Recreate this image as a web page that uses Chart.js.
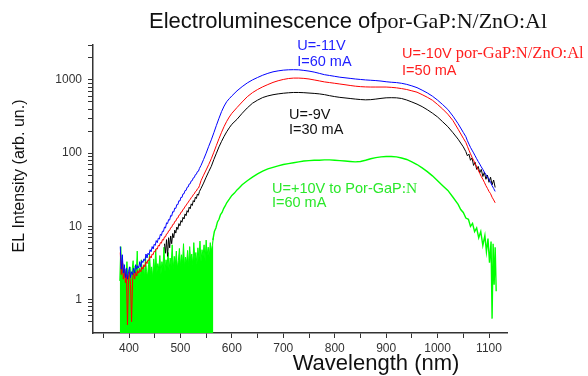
<!DOCTYPE html>
<html>
<head>
<meta charset="utf-8">
<script src="https://cdn.jsdelivr.net/npm/chart.js@4.4.1/dist/chart.umd.min.js"></script>
<style>
  html, body { margin: 0; background: #fff; }
  #wrap { width: 588px; height: 376px; }
</style>
</head>
<body>
<div id="wrap"><canvas id="el" width="588" height="376"></canvas></div>
<script>
// EL spectra of por-GaP:N/ZnO:Al, log intensity vs wavelength.
// Values.

// x tick marks (labels only on the hundreds)
const xTicks = [350, 400, 450, 500, 550, 600, 650, 700, 750, 800, 850, 900, 950, 1000, 1050, 1100];

// shared wavelength grid for the three reverse-bias curves (nm)
const nm = [
  383, 385, 387, 389, 391, 393, 395, 397, 399, 401,
  403, 405, 407, 409, 411, 413, 415, 417, 419, 421,
  423, 425, 427, 429, 431, 433, 435, 437, 439, 441,
  443, 445, 447, 449, 451, 453, 455, 457, 459, 461,
  463, 465, 467, 469, 471, 473, 475, 477, 479, 481,
  483, 485, 487, 489, 491, 493, 495, 497, 499, 501,
  503, 505, 507, 509, 511, 513, 515, 517, 519, 521,
  523, 525, 527, 529, 531, 533, 535, 537,
  540, 545, 550, 555, 560, 565, 570, 575, 580, 585, 590, 595,
  600, 610, 620, 630, 640, 650, 660, 670, 680, 690,
  700, 710, 720, 730, 740, 750, 760, 770, 780, 790,
  800, 810, 820, 830, 840, 850, 860, 870, 880, 890,
  900, 910, 920, 930, 940, 950, 960, 970, 980, 990,
  1000, 1010, 1020, 1030, 1040, 1050,
  1055, 1058, 1061, 1064, 1067, 1070, 1073, 1076, 1079, 1082,
  1085, 1088, 1091, 1094, 1097, 1100, 1103, 1106, 1109, 1112,
];

// U=-11V, I=60 mA
const blueEL = [
  5.3, 2.6, 4.1, 2.3, 3.0, 2.0, 2.7, 1.9, 2.4, 2.8,
  2.0, 2.4, 2.2, 2.7, 2.3, 3.0, 2.6, 2.9, 2.7, 3.3,
  2.8, 3.4, 3.2, 3.6, 3.4, 4.2, 3.7, 4.3, 4.1, 4.8,
  4.5, 5.3, 4.9, 5.7, 5.5, 6.4, 6.0, 6.9, 6.7, 7.8,
  7.5, 8.6, 8.5, 9.8, 9.5, 11.2, 10.9, 12.4, 12.2, 14.1,
  13.8, 15.9, 15.7, 17.8, 17.6, 19.9, 19.8, 22.4, 22.2, 25.0,
  24.8, 27.8, 27.9, 30.9, 31.0, 34.2, 34.5, 37.9, 38.2, 41.8,
  42.2, 46.0, 46.5, 50.8, 51.4, 56.0, 56.6, 62,
  68, 82, 100, 124, 152, 190, 240, 300, 370, 440, 505, 555,
  605, 710, 810, 910, 1000, 1080, 1160, 1230, 1290, 1330,
  1360, 1375, 1380, 1375, 1350, 1320, 1280, 1230, 1180, 1150,
  1120, 1090, 1070, 1050, 1030, 1015, 1000, 990, 980, 965,
  945, 930, 920, 900, 870, 830, 785, 725, 665, 600,
  530, 460, 395, 320, 252, 192,
  168, 148, 133, 120, 110, 101, 92, 84, 77, 71,
  65, 60, 55, 51, 47, 44, 40, 36, 33, 30,
];

// U=-10V, I=50 mA
const redEL = [
  4.4, 2.2, 3.4, 1.9, 2.6, 1.7, 2.2, 0.45, 2.0, 2.4,
  1.6, 0.5, 1.9, 2.3, 1.9, 2.4, 2.1, 2.5, 2.3, 2.6,
  2.4, 2.8, 2.6, 3.0, 2.8, 3.3, 3.1, 3.5, 3.4, 3.9,
  3.7, 4.2, 4.1, 4.6, 4.5, 5.0, 4.9, 5.5, 5.4, 6.0,
  5.9, 6.6, 6.5, 7.2, 7.2, 7.9, 8.0, 8.7, 8.8, 9.6,
  9.7, 10.6, 10.7, 11.7, 11.8, 12.9, 13.0, 14.2, 14.4, 15.6,
  15.8, 17.1, 17.4, 18.8, 19.2, 20.6, 21.1, 22.6, 23.2, 24.8,
  25.4, 27.2, 27.8, 29.8, 30.4, 32.6, 33.3, 36,
  42, 50, 59, 70, 84, 103, 128, 158, 193, 232, 272, 312,
  350, 420, 500, 590, 670, 740, 805, 865, 925, 975,
  1015, 1045, 1060, 1060, 1050, 1030, 1000, 970, 940, 920,
  900, 880, 860, 840, 822, 810, 803, 800, 800, 800,
  800, 792, 780, 762, 740, 710, 680, 630, 580, 528,
  462, 400, 340, 278, 212, 160,
  140, 124, 110, 98, 88, 80, 72, 65, 59, 53,
  48, 44, 40, 36, 33, 30, 28, 25, 23, 21,
];

// U=-9V, I=30 mA (hidden under the others below ~470 nm)
const blackEL = [
  null, null, null, null, null, null, null, null, null, null,
  null, null, null, null, null, null, null, null, null, null,
  null, null, null, null, null, null, null, null, null, null,
  null, null, null, null, null, null, null, null, null, null,
  null, null, null, 5.8, 4.3, 6.6, 3.9, 7.0, 5.1, 7.4,
  5.8, 8.0, 7.0, 8.9, 8.1, 9.8, 9.1, 10.9, 10.2, 12.0,
  11.4, 13.3, 12.6, 14.8, 14.0, 16.4, 15.6, 18.3, 17.4, 20.3,
  19.3, 22.5, 21.5, 25, 24, 27.7, 26.6, 30,
  33, 39, 47, 56, 66, 82, 100, 122, 145, 170, 196, 222,
  248, 290, 350, 415, 480, 530, 575, 605, 628, 645,
  658, 668, 674, 674, 670, 662, 655, 645, 630, 610,
  592, 578, 568, 558, 548, 540, 535, 538, 548, 560,
  570, 572, 570, 558, 532, 500, 468, 432, 392, 352,
  312, 268, 230, 190, 155, 122,
  105, 92, 97, 80, 86, 68, 75, 60, 66, 54,
  60, 48, 55, 44, 50, 40, 47, 37, 43, 34,
];

// U=+10V to por-GaP:N, I=60 mA — smooth part
const greenNm = [
  563, 566, 569, 572, 575, 578, 581, 584, 587, 590,
  595, 600, 605, 610, 615, 620, 630, 640, 650, 660,
  670, 680, 690, 700, 710, 720, 730, 740, 750, 760,
  770, 780, 790, 800, 810, 820, 830, 840, 850, 860,
  870, 880, 890, 900, 910, 920, 930, 940, 950, 960,
  970, 980, 990, 1000, 1010, 1020, 1030, 1040, 1045, 1050,
  1055, 1060, 1064, 1068, 1072, 1076, 1080, 1084, 1088, 1092,
  1095, 1098, 1101, 1104, 1106, 1108, 1110, 1112, 1114,
];
const greenEL = [
  6.5, 8.5, 9.5, 11.5, 12.5, 14.5, 15.5, 17.5, 19, 21,
  23.5, 26.5, 28.5, 31.5, 34, 37, 42, 47, 52, 57,
  61, 64, 67, 70, 72, 74, 76, 78, 79, 80,
  80, 81, 81, 80, 79, 78, 77, 76, 77, 80,
  84, 87, 89, 90, 90, 89, 86, 82, 76, 70,
  63, 56, 49, 42, 36, 31, 25, 20, 17, 15.5,
  13, 12.5, 10, 11, 8.5, 9.5, 7, 8.5, 5.5, 7.5,
  4.5, 6.8, 3.2, 6.2, 0.55, 5.8, 1.6, 5.2, 1.3,
];

// green curve below 565 nm: noise floor, drawn as a filled band
const noiseNm = [
  382, 384, 386, 388, 390, 392, 394, 396, 398, 400,
  402, 404, 406, 408, 410, 412, 414, 416, 418, 420,
  422, 424, 426, 428, 430, 432, 434, 436, 438, 440,
  442, 444, 446, 448, 450, 452, 454, 456, 458, 460,
  462, 464, 466, 468, 470, 472, 474, 476, 478, 480,
  482, 484, 486, 488, 490, 492, 494, 496, 498, 500,
  502, 504, 506, 508, 510, 512, 514, 516, 518, 520,
  522, 524, 526, 528, 530, 532, 534, 536, 538, 540,
  542, 544, 546, 548, 550, 552, 554, 556, 558, 560,
  562, 564,
];
const noiseEL = [
  1.8, 5.3, 2.4, 3.1, 1.6, 2.6, 1.9, 3.3, 1.7, 2.2,
  2.8, 1.5, 2.5, 3.4, 1.8, 2.9, 2.1, 4.6, 2.0, 2.7,
  1.9, 3.5, 2.3, 2.9, 2.0, 3.8, 2.4, 2.1, 3.0, 4.2,
  2.2, 2.8, 2.0, 3.6, 2.5, 4.9, 2.3, 3.1, 2.6, 4.0,
  2.2, 3.3, 2.7, 5.2, 2.4, 3.5, 2.8, 4.4, 2.5, 3.7,
  2.9, 5.6, 2.6, 3.9, 3.0, 4.6, 2.7, 3.4, 5.0, 2.9,
  4.1, 3.1, 5.8, 2.8, 3.8, 3.2, 4.7, 2.9, 5.3, 3.4,
  4.2, 3.0, 6.0, 3.5, 4.4, 3.1, 5.1, 3.6, 6.3, 3.3,
  4.8, 3.9, 5.6, 3.4, 6.5, 4.1, 5.2, 3.8, 6.0, 4.6,
  5.5, 7.0,
];

const SANS = '"Liberation Sans", Arial, sans-serif';
const SERIF = '"Liberation Serif", "Times New Roman", serif';

// text labels placed in data coordinates (nm, EL)
const notes = [
  { nm: 727, el: 2915, color: '#1f1fff', runs: [['U=-11V', SANS, 14.5]] },
  { nm: 727, el: 1762, color: '#1f1fff', runs: [['I=60 mA', SANS, 14.5]] },
  { nm: 931, el: 2265, color: '#ff1f1f', runs: [['U=-10V ', SANS, 14.5], ['por-GaP:N/ZnO:Al', SERIF, 16.5]] },
  { nm: 931, el: 1327, color: '#ff1f1f', runs: [['I=50 mA', SANS, 14.5]] },
  { nm: 711, el: 333, color: '#111', runs: [['U=-9V', SANS, 14.5]] },
  { nm: 711, el: 207, color: '#111', runs: [['I=30 mA', SANS, 14.5]] },
  { nm: 678, el: 32.4, color: '#2be82b', runs: [['U=+10V to Por-GaP', SANS, 14.5], [':N', SERIF, 15.5]] },
  { nm: 678, el: 20.9, color: '#2be82b', runs: [['I=60 mA', SANS, 14.5]] },
];

const pts = (xs, ys) => xs.map((x, i) => ({ x, y: ys[i] }));

function drawRuns(ctx, x, y, runs, color) {
  ctx.fillStyle = color;
  ctx.textBaseline = 'middle';
  ctx.textAlign = 'left';
  for (const [txt, fam, size] of runs) {
    ctx.font = size + 'px ' + fam;
    ctx.fillText(txt, x, y);
    x += ctx.measureText(txt).width;
  }
}

const labels = {
  id: 'labels',
  afterDraw(chart) {
    const { ctx } = chart;
    const { x, y } = chart.scales;
    ctx.save();
    drawRuns(ctx, 149, 22, [['Electroluminescence of', SANS, 22], ['por-GaP:N/ZnO:Al', SERIF, 22]], '#111');
    for (const n of notes) {
      drawRuns(ctx, x.getPixelForValue(n.nm), y.getPixelForValue(n.el), n.runs, n.color);
    }
    // axis titles
    ctx.fillStyle = '#111';
    ctx.textAlign = 'center';
    ctx.textBaseline = 'middle';
    ctx.font = '22px ' + SANS;
    ctx.fillText('Wavelength (nm)', 376, 364);
    ctx.translate(20, 176);
    ctx.rotate(-Math.PI / 2);
    ctx.font = '16px ' + SANS;
    ctx.fillText('EL Intensity (arb. un.)', 0, 0);
    ctx.restore();
  },
};

const line = (data, color, extra = {}) => ({
  data, borderColor: color, backgroundColor: color,
  borderWidth: 1, pointRadius: 0, tension: 0, spanGaps: false, ...extra,
});

const near = (v, step) => Math.abs(v - Math.round(v / step) * step) < 1e-6;
const isDecade = (v) => near(Math.log10(v), 1);

new Chart(document.getElementById('el'), {
  type: 'line',
  data: {
    datasets: [
      line(pts(nm, blueEL), '#0000ff'),
      line(pts(nm, redEL), '#ff0000'),
      line(pts(nm, blackEL), '#000000'),
      line(pts(greenNm, greenEL), '#00ff00', { borderWidth: 1.4 }),
      line(pts(noiseNm, noiseEL), '#00ff00', { fill: 'start' }),
    ],
  },
  options: {
    responsive: false,
    animation: false,
    layout: { padding: { top: 45, right: 81, left: 0, bottom: 0 } },
    plugins: { legend: { display: false }, tooltip: { enabled: false } },
    scales: {
      x: {
        type: 'linear', min: 330, max: 1135,
        afterFit: (s) => { s.height = 43; },
        afterBuildTicks: (s) => { s.ticks = xTicks.map((v) => ({ value: v })); },
        border: { color: '#333', width: 1.5 },
        grid: { drawOnChartArea: false, tickLength: 5, tickColor: '#333' },
        ticks: {
          autoSkip: false, maxRotation: 0, padding: 3,
          color: '#333', font: { family: SANS, size: 12 },
          callback: (v) => (near(v, 100) ? String(Math.round(v)) : ''),
        },
      },
      y: {
        type: 'logarithmic', min: 0.35, max: 3000,
        afterFit: (s) => { s.width = 93; },
        afterBuildTicks: (s) => {
          s.ticks = s.ticks.filter((t) => {
            const m = t.value / Math.pow(10, Math.floor(Math.log10(t.value) + 1e-9));
            return near(m, 1);
          });
        },
        border: { color: '#333', width: 1.5 },
        grid: { drawOnChartArea: false, tickLength: 5, tickColor: '#333' },
        ticks: {
          autoSkip: false, padding: 6,
          color: '#333', font: { family: SANS, size: 12 },
          callback: (v) => (isDecade(v) ? String(Math.round(v)) : ''),
        },
      },
    },
  },
  plugins: [labels],
});
</script>
</body>
</html>
